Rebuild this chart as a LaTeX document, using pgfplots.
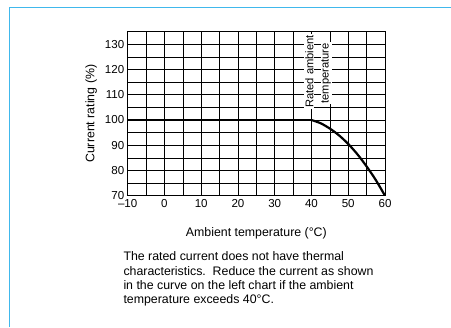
\documentclass[border=0pt]{standalone}
\usepackage{pgfplots}
\pgfplotsset{compat=1.18}
\usepackage{fontspec}
\setmainfont{Liberation Sans}
\definecolor{frameblue}{RGB}{64,184,236}

\begin{document}
\begin{tikzpicture}[x=1bp,y=1bp]
  \useasboundingbox (0,0) rectangle (451,327);
  % blue frame of the page
  \draw[frameblue, line width=1.4bp] (9.7,0) -- (9.7,319.3) -- (451,319.3);

  \begin{axis}[
      at={(127.7bp,131.3bp)}, anchor=south west,
      scale only axis,
      width=257.3bp, height=164bp,
      xmin=-10, xmax=60,
      ymin=70, ymax=135,
      xtick={-10,0,10,20,30,40,50,60},
      xticklabels={–10,0,10,20,30,40,50,60},
      ytick={70,80,90,100,110,120,130},
      minor xtick={-5,5,15,25,35,45,55},
      minor ytick={75,85,95,105,115,125},
      grid=both,
      major grid style={black, line width=0.6bp},
      minor grid style={black, line width=0.6bp},
      major tick length=0pt, minor tick length=0pt,
      axis line style={black, line width=0.9bp},
      tick label style={font=\fontsize{11.6}{13}\selectfont},
      /pgf/number format/assume math mode=true,
      xlabel={Ambient temperature (°C)},
      ylabel={Current rating (\%)},
      label style={font=\fontsize{12.4}{14}\selectfont},
      xlabel style={yshift=-13bp},
      ylabel style={yshift=1bp},
    ]
    \addplot[black, line width=2.2bp] coordinates {(-10,100) (40,100)};
    \addplot[black, line width=2.2bp, smooth] coordinates {
      (40,100) (42.5,98.7) (45,96.6) (47.5,93.9) (50,90.5)
      (52.5,86.4) (55,81.6) (57.5,76.2) (60,70)
    };
    \node[rotate=90, fill=white, inner sep=0.8bp,
          font=\fontsize{11.2}{13}\selectfont]
      at (axis cs:39.4,119.2) {Rated ambient};
    \node[rotate=90, fill=white, inner sep=0.8bp,
          font=\fontsize{11.2}{13}\selectfont]
      at (axis cs:44.0,118.5) {temperature};
  \end{axis}

  \node[anchor=north west, inner sep=0pt, align=left,
        font=\fontsize{12.4}{14.4}\selectfont]
    at (123.3,75.5)
    {The rated current does not have thermal\\
     characteristics.\ \ Reduce the current as shown\\
     in the curve on the left chart if the ambient\\
     temperature exceeds 40°C.};
\end{tikzpicture}
\end{document}
